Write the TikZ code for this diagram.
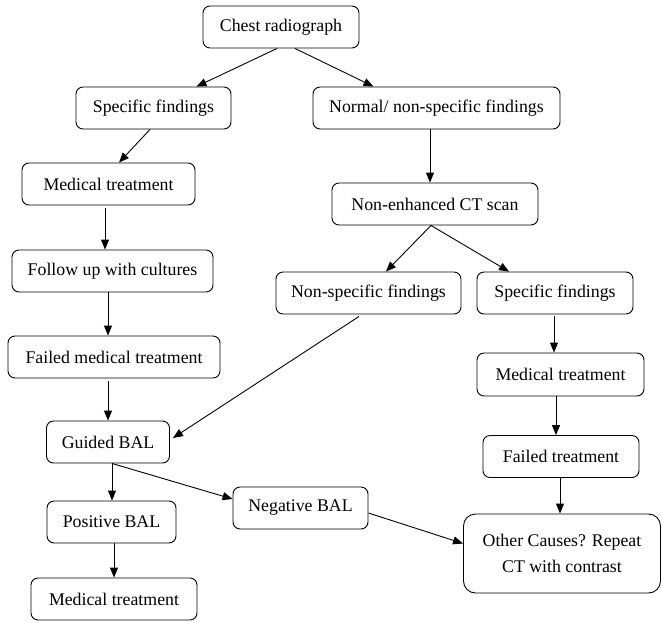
\documentclass[tikz,border=0pt]{standalone}
\usepackage{fontspec}
\setmainfont{Liberation Serif}
\usetikzlibrary{arrows.meta,calc}
\begin{document}
\begin{tikzpicture}[x=1pt,y=-1pt,
  box/.style={draw, line width=0.9pt, rounded corners=7pt, minimum height=42pt,
    inner sep=0pt, align=center, font=\fontsize{17.8}{26}\selectfont},
  arr/.style={draw, line width=0.9pt, -{Triangle[length=10pt,width=8pt]}}]
\useasboundingbox (0,0) rectangle (662,622);
\node[box, minimum width=156pt] (chest) at (281,27) {Chest radiograph};
\node[box, minimum width=155pt] (specL) at (153.5,108) {Specific findings};
\node[box, minimum width=247pt] (normal) at (436.5,108) {Normal/ non-specific findings};
\node[box, minimum width=173pt] (medL) at (108.5,184) {Medical treatment};
\node[box, minimum width=201pt] (follow) at (112.5,271) {Follow up with cultures};
\node[box, minimum width=212pt] (failedM) at (114,357) {Failed medical treatment};
\node[box, minimum width=123pt] (guided) at (108,442) {Guided BAL};
\node[box, minimum width=129pt] (positive) at (111.5,522) {Positive BAL};
\node[box, minimum width=166pt] (medB) at (114,599) {Medical treatment};
\node[box, minimum width=206pt] (ct) at (435,204) {Non-enhanced CT scan};
\node[box, minimum width=185pt] (nonspec) at (368.5,293) {Non-specific findings};
\node[box, minimum width=156pt] (specR) at (555,293) {Specific findings};
\node[box, minimum width=167pt, minimum height=43pt] (medR) at (560.5,374.5) {Medical treatment};
\node[box, minimum width=156pt] (failedT) at (561,456.5) {Failed treatment};
\node[box, minimum width=135pt] (negative) at (300.5,508) {Negative BAL};
\node[box, minimum width=197pt, minimum height=79pt, rounded corners=12pt] (other) at (562,553.5) {Other Causes? Repeat\\CT with contrast};

\draw[arr] ($(chest.south)+(-4,0)$) -- ($(specL.north)+(43,0)$);
\draw[arr] ($(chest.south)+(14,0)$) -- ($(normal.north)+(-63,0)$);
\draw[arr] ($(specL.south)+(-3.5,0)$) -- ($(medL.north)+(10.5,0)$);
\draw[arr] ($(medL.south)+(-3.5,3)$) -- ($(follow.north)+(-7.5,0)$);
\draw[arr] ($(follow.south)+(-4.5,0)$) -- ($(failedM.north)+(-6,0)$);
\draw[arr] ($(failedM.south)+(-6,3)$) -- (guided.north);
\draw[arr] ($(guided.south)+(4,0)$) -- ($(positive.north)+(0.5,0)$);
\draw[arr] ($(positive.south)+(2.5,0)$) -- (medB.north);
\draw[arr] ($(guided.south)+(4,0)$) -- ($(negative.west)+(0,-9)$);
\draw[arr] ($(negative.east)+(0,5)$) -- ($(other.west)+(0,-10)$);
\draw[arr] ($(normal.south)+(-6.5,0)$) -- ($(ct.north)+(-5,0)$);
\draw[arr] ($(ct.south)+(-4,0)$) -- ($(nonspec.north)+(17.5,0)$);
\draw[arr] ($(ct.south)+(-4,0)$) -- ($(specR.north)+(-46,0)$);
\draw[arr] ($(nonspec.south)+(-9.5,2)$) -- ($(guided.east)+(3,-4)$);
\draw[arr] ($(specR.south)+(-1,2)$) -- ($(medR.north)+(-6.5,0)$);
\draw[arr] ($(medR.south)+(-4.5,0)$) -- ($(failedT.north)+(-5,0)$);
\draw[arr] ($(failedT.south)+(-1,0)$) -- ($(other.north)+(-2,0)$);
\end{tikzpicture}
\end{document}
